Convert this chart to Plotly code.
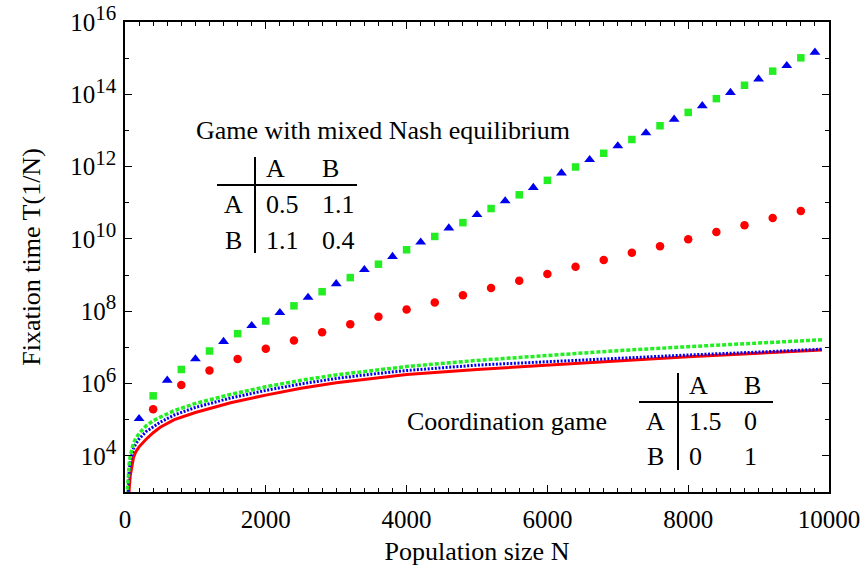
import plotly.graph_objects as go

# ---------------- data ----------------
# Game with mixed Nash equilibrium: simulation markers
N_tri = [200, 600, 1000, 1400, 1800, 2200, 2600, 3000, 3400, 3800, 4200, 4600, 5000,
         5400, 5800, 6200, 6600, 7000, 7400, 7800, 8200, 8600, 9000, 9400, 9800]
T_tri = [1.07e5, 1.23e6, 4.79e6, 1.45e7, 3.98e7, 9.12e7, 2.40e8, 5.75e8, 1.41e9, 3.24e9,
         8.13e9, 2.00e10, 4.68e10, 1.12e11, 2.63e11, 6.61e11, 1.55e12, 3.72e12, 8.51e12,
         2.04e13, 4.79e13, 1.12e14, 2.63e14, 6.17e14, 1.45e15]

N_sq = [400, 800, 1200, 1600, 2000, 2400, 2800, 3200, 3600, 4000, 4400, 4800,
        5200, 5600, 6000, 6400, 6800, 7200, 7600, 8000, 8400, 8800, 9200, 9600]
T_sq = [4.57e5, 2.45e6, 7.94e6, 2.40e7, 5.37e7, 1.41e8, 3.47e8, 8.51e8, 2.00e9, 5.01e9,
        1.17e10, 2.82e10, 6.92e10, 1.66e11, 4.17e11, 9.77e11, 2.34e12, 5.62e12, 1.35e13,
        3.16e13, 7.59e13, 1.78e14, 4.37e14, 1.02e15]

N_circ = [400, 800, 1200, 1600, 2000, 2400, 2800, 3200, 3600, 4000, 4400, 4800,
          5200, 5600, 6000, 6400, 6800, 7200, 7600, 8000, 8400, 8800, 9200, 9600]
T_circ = [1.95e5, 9.12e5, 2.29e6, 4.79e6, 9.12e6, 1.55e7, 2.63e7, 4.37e7, 7.08e7, 1.12e8,
          1.74e8, 2.75e8, 4.37e8, 6.92e8, 1.07e9, 1.70e9, 2.63e9, 4.17e9, 6.31e9, 9.77e9,
          1.55e10, 2.40e10, 3.80e10, 5.89e10]

# Coordination game: curves (values given as log10 of T)
N_line = [30, 40, 50, 60, 75, 100, 120, 150, 200, 300, 400, 500, 700, 1000, 1500,
          2000, 2500, 3000, 3500, 4000, 5000, 6000, 7000, 8000, 9000, 9900]
red_log10 = [1.9, 2.4, 2.8, 3.1, 3.45, 3.75, 3.95, 4.1, 4.25, 4.46, 4.64, 4.79, 5.0, 5.2,
             5.47, 5.68, 5.87, 6.02, 6.14, 6.25, 6.39, 6.51, 6.64, 6.74, 6.84, 6.93]
blue_log10 = [2.4, 3.0, 3.35, 3.6, 3.85, 4.1, 4.2, 4.32, 4.47, 4.67, 4.81, 4.93, 5.13, 5.34,
              5.60, 5.81, 5.99, 6.14, 6.26, 6.36, 6.51, 6.61, 6.70, 6.79, 6.87, 6.95]
green_log10 = [2.9, 3.3, 3.6, 3.8, 4.0, 4.25, 4.35, 4.47, 4.62, 4.83, 4.97, 5.07, 5.25, 5.45,
               5.70, 5.91, 6.09, 6.24, 6.36, 6.47, 6.64, 6.78, 6.91, 7.02, 7.12, 7.21]

x_ticks = [0, 2000, 4000, 6000, 8000, 10000]
y_tick_exp = [4, 6, 8, 10, 12, 14, 16]
y_minor_exp = [3, 5, 7, 9, 11, 13, 15]

# ---------------- styles ----------------
FONT = "Liberation Serif"
RED = "#ff0000"
BLUE = "#0000ee"
GREEN = "#22ee22"

fig = go.Figure()

fig.add_trace(go.Scatter(x=N_line, y=[10 ** v for v in red_log10], mode="lines",
                         line=dict(color=RED, width=3), showlegend=False))
fig.add_trace(go.Scatter(x=N_line, y=[10 ** v for v in blue_log10], mode="lines",
                         line=dict(color=BLUE, width=3, dash="2px,1.6px"), showlegend=False))
fig.add_trace(go.Scatter(x=N_line, y=[10 ** v for v in green_log10], mode="lines",
                         line=dict(color=GREEN, width=3.5, dash="4px,2px"), showlegend=False))

fig.add_trace(go.Scatter(x=N_circ, y=T_circ, mode="markers",
                         marker=dict(symbol="circle", size=8.5, color=RED), showlegend=False))
fig.add_trace(go.Scatter(x=N_sq, y=T_sq, mode="markers",
                         marker=dict(symbol="square", size=7.5, color=GREEN), showlegend=False))
fig.add_trace(go.Scatter(x=N_tri, y=T_tri, mode="markers",
                         marker=dict(symbol="triangle-up", size=9.5, color=BLUE), showlegend=False))

axis_common = dict(showline=True, linecolor="black", linewidth=1.5, mirror="ticks",
                   ticks="inside", ticklen=7, tickwidth=1.2, tickcolor="black",
                   showgrid=False, zeroline=False,
                   tickfont=dict(family=FONT, size=25, color="black"))

fig.update_xaxes(range=[0, 10000], tickvals=x_ticks,
                 ticktext=[str(v) for v in x_ticks],
                 minor=dict(dtick=200, ticks="inside", ticklen=4, tickcolor="black", tickwidth=1),
                 title=dict(text="Population size N", font=dict(family=FONT, size=26, color="black"),
                            standoff=10),
                 ticklabelstandoff=4,
                 **axis_common)
fig.update_yaxes(type="log", range=[3, 16],
                 tickvals=[10 ** e for e in y_tick_exp],
                 ticktext=["10<sup><span style='font-size:21px'>%d</span></sup>" % e for e in y_tick_exp],
                 minor=dict(tickvals=[10 ** e for e in y_minor_exp], ticks="inside", ticklen=4,
                            tickcolor="black", tickwidth=1),
                 title=dict(text="Fixation time T(1/N)", font=dict(family=FONT, size=26, color="black"),
                            standoff=22),
                 ticklabelstandoff=2,
                 **axis_common)


def px2paper(px, py):
    return (px - 125) / 704.0, (492 - py) / 470.0


annotations = []


def txt(text, px, py, anchor="center"):
    x, y = px2paper(px, py)
    annotations.append(dict(text=text, x=x, y=y, xref="paper", yref="paper",
                            xanchor=anchor, yanchor="middle", showarrow=False,
                            font=dict(family=FONT, size=26, color="black")))


shapes = []


def seg(px0, py0, px1, py1):
    x0, y0 = px2paper(px0, py0)
    x1, y1 = px2paper(px1, py1)
    shapes.append(dict(type="line", xref="paper", yref="paper", x0=x0, y0=y0, x1=x1, y1=y1,
                       line=dict(color="black", width=2)))


# Table 1: game with mixed Nash equilibrium
txt("Game with mixed Nash equilibrium", 383, 131)
txt("A", 264, 168, "left")
txt("B", 320, 168, "left")
txt("A", 233, 205)
txt("0.5", 264, 205, "left")
txt("1.1", 320, 205, "left")
txt("B", 233, 240)
txt("1.1", 264, 240, "left")
txt("0.4", 320, 240, "left")
seg(255, 157, 255, 253)
seg(217, 185, 357, 185)

# Table 2: coordination game
txt("Coordination game", 507, 421)
txt("A", 687, 385, "left")
txt("B", 742, 385, "left")
txt("A", 655, 421)
txt("1.5", 687, 421, "left")
txt("0", 742, 421, "left")
txt("B", 655, 456)
txt("0", 687, 456, "left")
txt("1", 742, 456, "left")
seg(678, 373, 678, 470)
seg(639, 402, 773, 402)

fig.update_layout(width=867, height=574, margin=dict(l=125, r=38, t=22, b=82, autoexpand=False),
                  paper_bgcolor="white", plot_bgcolor="white",
                  annotations=annotations, shapes=shapes, showlegend=False)

fig.write_html("out.html", config={"displayModeBar": False},
               post_script="document.body.style.margin='0px';document.body.style.padding='0px';")
